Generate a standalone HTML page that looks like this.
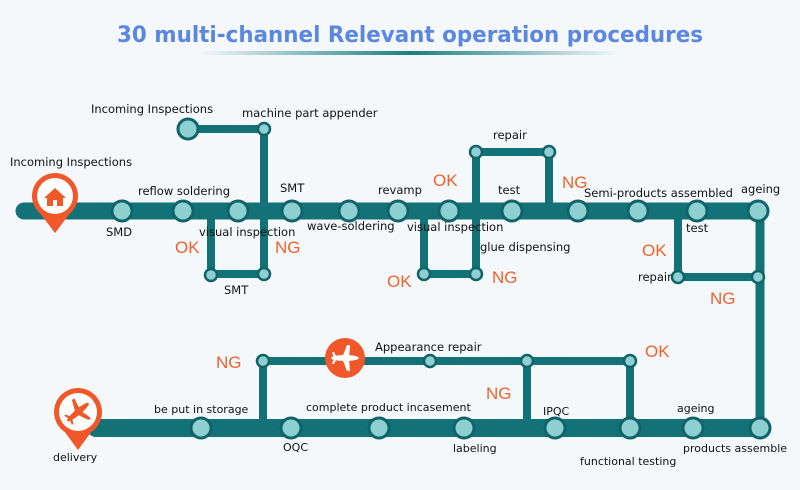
<!DOCTYPE html>
<html><head><meta charset="utf-8"><style>
html,body{margin:0;padding:0;background:#f5f8fa;}
svg{display:block;}
text{font-family:"DejaVu Sans","Liberation Sans",sans-serif;font-size:11.5px;fill:#111;}
.ok{font-family:"Liberation Sans",sans-serif;font-size:17px;fill:#f0622d;}
</style></head><body>
<svg width="800" height="490" viewBox="0 0 800 490" xmlns="http://www.w3.org/2000/svg">
<defs>
<linearGradient id="ul" x1="0" x2="1"><stop offset="0" stop-color="#1a7f80" stop-opacity="0"/><stop offset="0.5" stop-color="#1a7f80"/><stop offset="1" stop-color="#1a7f80" stop-opacity="0"/></linearGradient>
</defs>
<rect width="800" height="490" fill="#f5f8fa"/>
<text x="410" y="42" text-anchor="middle" textLength="586" lengthAdjust="spacingAndGlyphs" style="font-family:'DejaVu Sans',sans-serif;font-size:22px;font-weight:bold;fill:#5b87e0">30 multi-channel Relevant operation procedures</text>
<rect x="200" y="51" width="420" height="4" fill="url(#ul)"/>

<g stroke="#137278" fill="none" stroke-linecap="round" stroke-linejoin="round">
<line x1="24" y1="211" x2="760" y2="211" stroke-width="17"/>
<line x1="760" y1="211" x2="760" y2="428" stroke-width="9"/>
<line x1="96" y1="428" x2="760" y2="428" stroke-width="18"/>
<polyline points="188,129 264,129 264,274" stroke-width="8"/>
<polyline points="211,211 211,274 264,274" stroke-width="8"/>
<polyline points="476,274 476,152 549,152 549,211" stroke-width="8"/>
<polyline points="424,211 424,274 476,274" stroke-width="8"/>
<polyline points="678,211 678,277 758,277" stroke-width="8"/>
<polyline points="263,428 263,361 630,361 630,428" stroke-width="8"/>
<line x1="527" y1="361" x2="527" y2="428" stroke-width="8"/>
</g>

<g fill="#8ecfd2" stroke="#0f6469" stroke-width="3">
<circle cx="188" cy="129" r="10"/>
<circle cx="122" cy="211" r="10"/><circle cx="183" cy="211" r="10"/><circle cx="238" cy="211" r="10"/>
<circle cx="292" cy="211" r="10"/><circle cx="349" cy="211" r="10"/><circle cx="398" cy="211" r="10"/>
<circle cx="449" cy="211" r="10"/><circle cx="512" cy="211" r="10"/><circle cx="578" cy="211" r="10"/>
<circle cx="638" cy="211" r="10"/><circle cx="697" cy="211" r="10"/><circle cx="758" cy="211" r="10"/>
<circle cx="201" cy="428" r="10"/><circle cx="291" cy="428" r="10"/><circle cx="379" cy="428" r="10"/>
<circle cx="464" cy="428" r="10"/><circle cx="555" cy="428" r="10"/><circle cx="630" cy="428" r="10"/>
<circle cx="693" cy="428" r="10"/><circle cx="760" cy="428" r="10"/>
</g>
<g fill="#8ecfd2" stroke="#0f6469" stroke-width="2.5">
<circle cx="264" cy="129" r="6"/><circle cx="211" cy="275" r="6"/><circle cx="264" cy="274" r="6"/>
<circle cx="476" cy="152" r="6"/><circle cx="549" cy="152" r="6"/><circle cx="424" cy="274" r="6"/><circle cx="476" cy="274" r="6"/>
<circle cx="678" cy="277" r="6"/><circle cx="758" cy="277" r="6"/>
<circle cx="263" cy="361" r="6"/><circle cx="430" cy="361" r="6"/><circle cx="527" cy="361" r="6"/><circle cx="630" cy="361" r="6"/>
</g>

<path d="M36,208 L55,233 L74,208 Z" fill="#f0582a"/>
<circle cx="55" cy="196" r="23" fill="#f0582a"/>
<circle cx="55" cy="196" r="18" fill="#fff"/>
<path d="M44,198 L55,188 L66,198 L63,198 L63,206 L47,206 L47,198 Z" fill="#f0582a"/>
<rect x="53" y="200" width="4" height="6" fill="#fff"/>
<path d="M59,424 L78,450 L97,424 Z" fill="#f0582a"/>
<circle cx="78" cy="412" r="24" fill="#f0582a"/>
<circle cx="78" cy="412" r="19" fill="#fff"/>
<g transform="translate(78,412) rotate(-40)" fill="#f0582a">
<ellipse cx="0" cy="0" rx="14" ry="3"/><path d="M-3,0 L3,-13 L6,-13 L3,0 L6,13 L3,13 Z"/><path d="M-11,0 L-13,-6 L-11,-6 L-8,0 L-11,6 L-13,6 Z"/>
</g>
<circle cx="345" cy="358" r="20" fill="#f0582a"/>
<g transform="translate(345,358)" fill="#fff">
<ellipse cx="0" cy="0" rx="14" ry="3"/><path d="M-3,0 L2,-13 L5,-13 L4,0 L5,13 L2,13 Z"/><path d="M-11,0 L-13,-6 L-11,-6 L-8,0 L-11,6 L-13,6 Z"/>
</g>

<text x="91" y="113">Incoming Inspections</text>
<text x="242" y="117">machine part appender</text>
<text x="10" y="166">Incoming Inspections</text>
<text x="138" y="195">reflow soldering</text>
<text x="280" y="192">SMT</text>
<text x="106" y="236">SMD</text>
<text x="199" y="236">visual inspection</text>
<text x="307" y="230">wave-soldering</text>
<text x="224" y="294">SMT</text>
<text x="378" y="194">revamp</text>
<text x="407" y="231">visual inspection</text>
<text x="480" y="251">glue dispensing</text>
<text x="493" y="139">repair</text>
<text x="498" y="194">test</text>
<text x="584" y="197">Semi-products assembled</text>
<text x="741" y="193">ageing</text>
<text x="686" y="232">test</text>
<text x="638" y="281">repair</text>
<text x="375" y="351">Appearance repair</text>
<text x="154" y="413" style="font-size:11px">be put in storage</text>
<text x="306" y="411" style="font-size:11px">complete product incasement</text>
<text x="543" y="415" style="font-size:11px">IPQC</text>
<text x="677" y="412" style="font-size:11px">ageing</text>
<text x="283" y="451" style="font-size:11px">OQC</text>
<text x="453" y="452" style="font-size:11px">labeling</text>
<text x="53" y="461" style="font-size:11px">delivery</text>
<text x="580" y="465" style="font-size:11px">functional testing</text>
<text x="683" y="452" style="font-size:11px">products assemble</text>

<text class="ok" x="175" y="253">OK</text>
<text class="ok" x="275" y="253">NG</text>
<text class="ok" x="433" y="186">OK</text>
<text class="ok" x="562" y="188">NG</text>
<text class="ok" x="387" y="287">OK</text>
<text class="ok" x="492" y="283">NG</text>
<text class="ok" x="642" y="256">OK</text>
<text class="ok" x="710" y="304">NG</text>
<text class="ok" x="216" y="368">NG</text>
<text class="ok" x="645" y="357">OK</text>
<text class="ok" x="486" y="399">NG</text>
</svg>
</body></html>
